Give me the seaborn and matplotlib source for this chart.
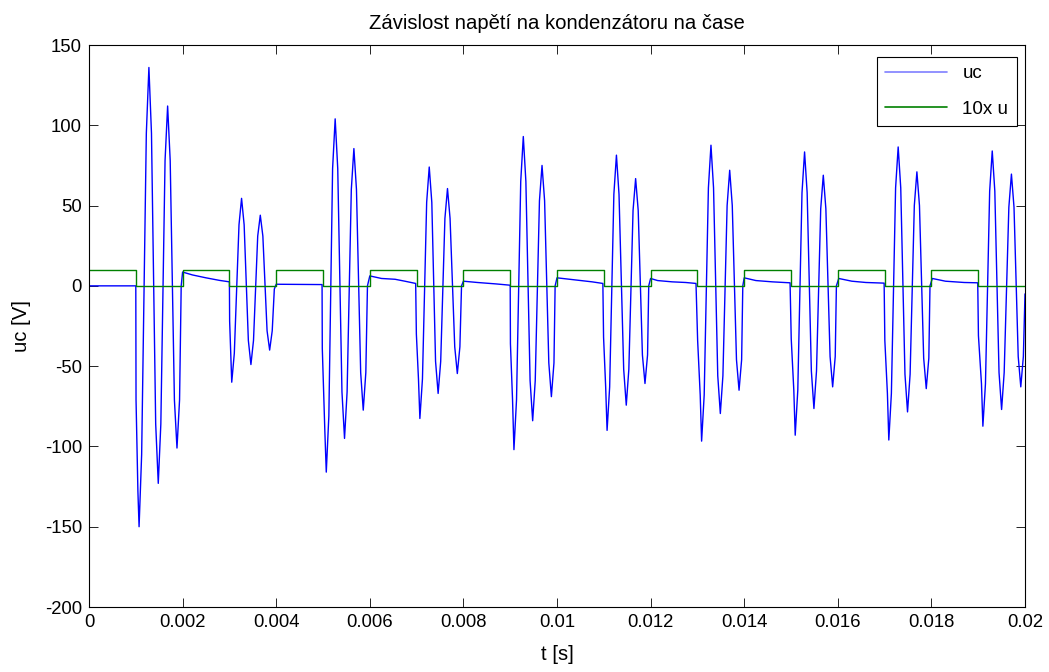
import numpy as np
import pandas as pd
import matplotlib
matplotlib.use("Agg")
import matplotlib.pyplot as plt
import seaborn as sns

# ---- data ----
# capacitor voltage uc: key points (time in ms, voltage in V)
uc_time_ms = [
    0.0, 1.0,
    1.005, 1.045, 1.07, 1.125, 1.225, 1.28, 1.335, 1.425, 1.48, 1.535,
    1.625, 1.68, 1.735, 1.825, 1.88, 1.935, 1.97, 2.0,
    2.21, 2.5, 2.79, 3.0,
    3.005, 3.035, 3.05, 3.105, 3.205, 3.26, 3.315, 3.405, 3.46, 3.515,
    3.605, 3.66, 3.715, 3.805, 3.86, 3.915, 3.96, 4.0,
    4.98,
    4.985, 5.04, 5.07, 5.125, 5.205, 5.26, 5.315, 5.405, 5.46, 5.515,
    5.605, 5.66, 5.715, 5.805, 5.86, 5.915, 5.95, 6.0,
    6.25, 6.54, 6.75, 6.98,
    6.995, 7.04, 7.07, 7.125, 7.215, 7.27, 7.325, 7.405, 7.46, 7.515,
    7.605, 7.66, 7.715, 7.815, 7.87, 7.925, 7.96, 8.0,
    8.3, 8.7, 9.0,
    9.005, 9.05, 9.08, 9.135, 9.225, 9.28, 9.335, 9.425, 9.48, 9.535,
    9.625, 9.68, 9.735, 9.825, 9.88, 9.935, 9.96, 10.0,
    10.3, 10.75, 10.98,
    10.995, 11.04, 11.07, 11.125, 11.215, 11.27, 11.325, 11.425, 11.48, 11.535,
    11.625, 11.68, 11.735, 11.825, 11.88, 11.935, 11.96, 12.0,
    12.15, 12.46, 12.75, 12.97,
    13.005, 13.06, 13.09, 13.145, 13.235, 13.29, 13.345, 13.435, 13.49, 13.545,
    13.635, 13.69, 13.745, 13.835, 13.89, 13.945, 13.97, 14.0,
    14.25, 14.6, 14.98,
    15.005, 15.06, 15.09, 15.145, 15.235, 15.29, 15.345, 15.435, 15.49, 15.545,
    15.635, 15.69, 15.745, 15.835, 15.89, 15.945, 15.97, 16.02,
    16.3, 16.6, 16.99,
    17.005, 17.06, 17.09, 17.145, 17.235, 17.29, 17.345, 17.435, 17.49, 17.545,
    17.635, 17.69, 17.745, 17.835, 17.89, 17.945, 17.97, 18.02,
    18.3, 18.7, 18.99,
    19.005, 19.07, 19.10, 19.155, 19.245, 19.30, 19.355, 19.445, 19.50, 19.555,
    19.655, 19.71, 19.765, 19.855, 19.91, 19.965, 20.0,
]
uc_volts = [
    0.0, 0.0,
    -71, -128, -150, -105, 95, 136, 95, -86, -123, -86,
    78, 112, 78, -71, -101, -71, 0, 8.6,
    6.8, 5.0, 3.4, 2.5,
    -22, -47, -60, -42, 38, 54.5, 38, -34, -49, -34,
    31, 44, 31, -28, -40, -28, -2, 1.0,
    0.8,
    -39, -91, -116, -81, 73, 104, 73, -66, -95, -66,
    60, 85.5, 60, -54, -77.4, -54, 0, 6.2,
    4.6, 4.1, 2.9, 1.5,
    -30, -58, -82.6, -58, 52, 74, 52, -47, -67, -47,
    42, 60.6, 42, -38, -54.6, -38, 0, 2.9,
    2.1, 1.2, 0.4,
    -36, -71, -102, -71, 65, 93, 65, -59, -84, -59,
    53, 75, 53, -48, -69, -48, 0, 5.0,
    4.0, 2.5, 1.5,
    -32, -63, -90, -63, 57, 81.4, 57, -52, -74.3, -52,
    47, 66.8, 47, -43, -60.8, -43, 0, 4.6,
    3.3, 2.5, 2.1, 1.5,
    -34, -68, -96.7, -68, 61, 87.6, 61, -56, -79.5, -56,
    50, 72, 50, -46, -65, -46, 0, 5.0,
    3.3, 2.5, 1.9,
    -33, -65, -93, -65, 58, 83.4, 58, -53, -76.4, -53,
    48, 68.9, 48, -44, -62.9, -44, 0, 4.6,
    2.9, 2.1, 1.7,
    -34, -67, -96, -67, 61, 86.5, 61, -55, -78.5, -55,
    50, 71, 50, -45, -64, -45, 0, 4.6,
    2.9, 2.1, 1.9,
    -31, -61, -87.4, -61, 59, 84, 59, -54, -77, -54,
    49, 69.6, 49, -44, -62.9, -44, -5,
]

# supply voltage u (square wave, 0/1), switching instants in ms
u_time_ms = [0, 1, 2, 3, 4, 5, 6, 7, 8, 9, 10, 11, 12, 13, 14, 15, 16, 17, 18, 19, 20]
u_level = [1, 0, 1, 0, 1, 0, 1, 0, 1, 0, 1, 0, 1, 0, 1, 0, 1, 0, 1, 0, 0]
u_scale = 10

series_labels = ["uc", "10x u"]
title_text = "Závislost napětí na kondenzátoru na čase"
x_label = "t [s]"
y_label = "uc [V]"
x_ticks = [0, 0.002, 0.004, 0.006, 0.008, 0.01, 0.012, 0.014, 0.016, 0.018, 0.02]
x_tick_labels = ["0", "0.002", "0.004", "0.006", "0.008", "0.01", "0.012",
                 "0.014", "0.016", "0.018", "0.02"]
y_ticks = [-200, -150, -100, -50, 0, 50, 100, 150]
y_tick_labels = ["-200", "-150", "-100", "-50", "0", "50", "100", "150"]

# ---- build frames ----
df_uc = pd.DataFrame({"t": np.array(uc_time_ms) / 1000.0, "v": uc_volts})
df_u = pd.DataFrame({"t": np.array(u_time_ms) / 1000.0,
                     "v": np.array(u_level) * u_scale})

sns.set_style("ticks")
plt.rcParams["font.family"] = ["Liberation Sans", "DejaVu Sans"]
plt.rcParams["xtick.direction"] = "in"
plt.rcParams["ytick.direction"] = "in"
plt.rcParams["text.color"] = "black"
plt.rcParams["axes.labelcolor"] = "black"

W, H = 1049, 672
fig = plt.figure(figsize=(W / 100, H / 100), dpi=100)
fig.patch.set_facecolor("white")
ax = fig.add_axes([89 / W, 65 / H, 936 / W, 562 / H])

sns.lineplot(data=df_uc, x="t", y="v", ax=ax, color="#0000FF", lw=1.0,
             estimator=None, sort=False, label=series_labels[0])
sns.lineplot(data=df_u, x="t", y="v", ax=ax, color="#008000", lw=1.0,
             estimator=None, sort=False, drawstyle="steps-post",
             label=series_labels[1])

ax.set_xlim(0, 0.02)
ax.set_ylim(-200, 150)
ax.set_xticks(x_ticks)
ax.set_xticklabels(x_tick_labels)
ax.set_yticks(y_ticks)
ax.set_yticklabels(y_tick_labels)
ax.tick_params(axis="both", which="major", direction="in", length=6.5,
               width=0.6, top=True, right=True, labelsize=13.3, pad=5,
               colors="black")
for s in ax.spines.values():
    s.set_visible(True)
    s.set_linewidth(0.8)
    s.set_color("black")

ax.set_title(title_text, fontsize=14.6, pad=11.5, color="black")
ax.set_xlabel(x_label, fontsize=14.6, labelpad=10, color="black")
ax.set_ylabel(y_label, fontsize=14.6, labelpad=10, color="black")

leg = ax.legend(loc="upper right", bbox_to_anchor=(0.991, 0.979),
                borderaxespad=0, frameon=True, fancybox=False,
                framealpha=1, edgecolor="black", fontsize=13.5,
                handlelength=3.3, labelspacing=0.99, borderpad=0.45)
leg.get_frame().set_linewidth(0.8)
leg.get_lines()[0].set_color("#7f7fff")
for line in leg.get_lines():
    line.set_linewidth(1.2)
for txt in leg.get_texts():
    txt.set_color("black")

fig.savefig("out.png", dpi=100, facecolor="white")
